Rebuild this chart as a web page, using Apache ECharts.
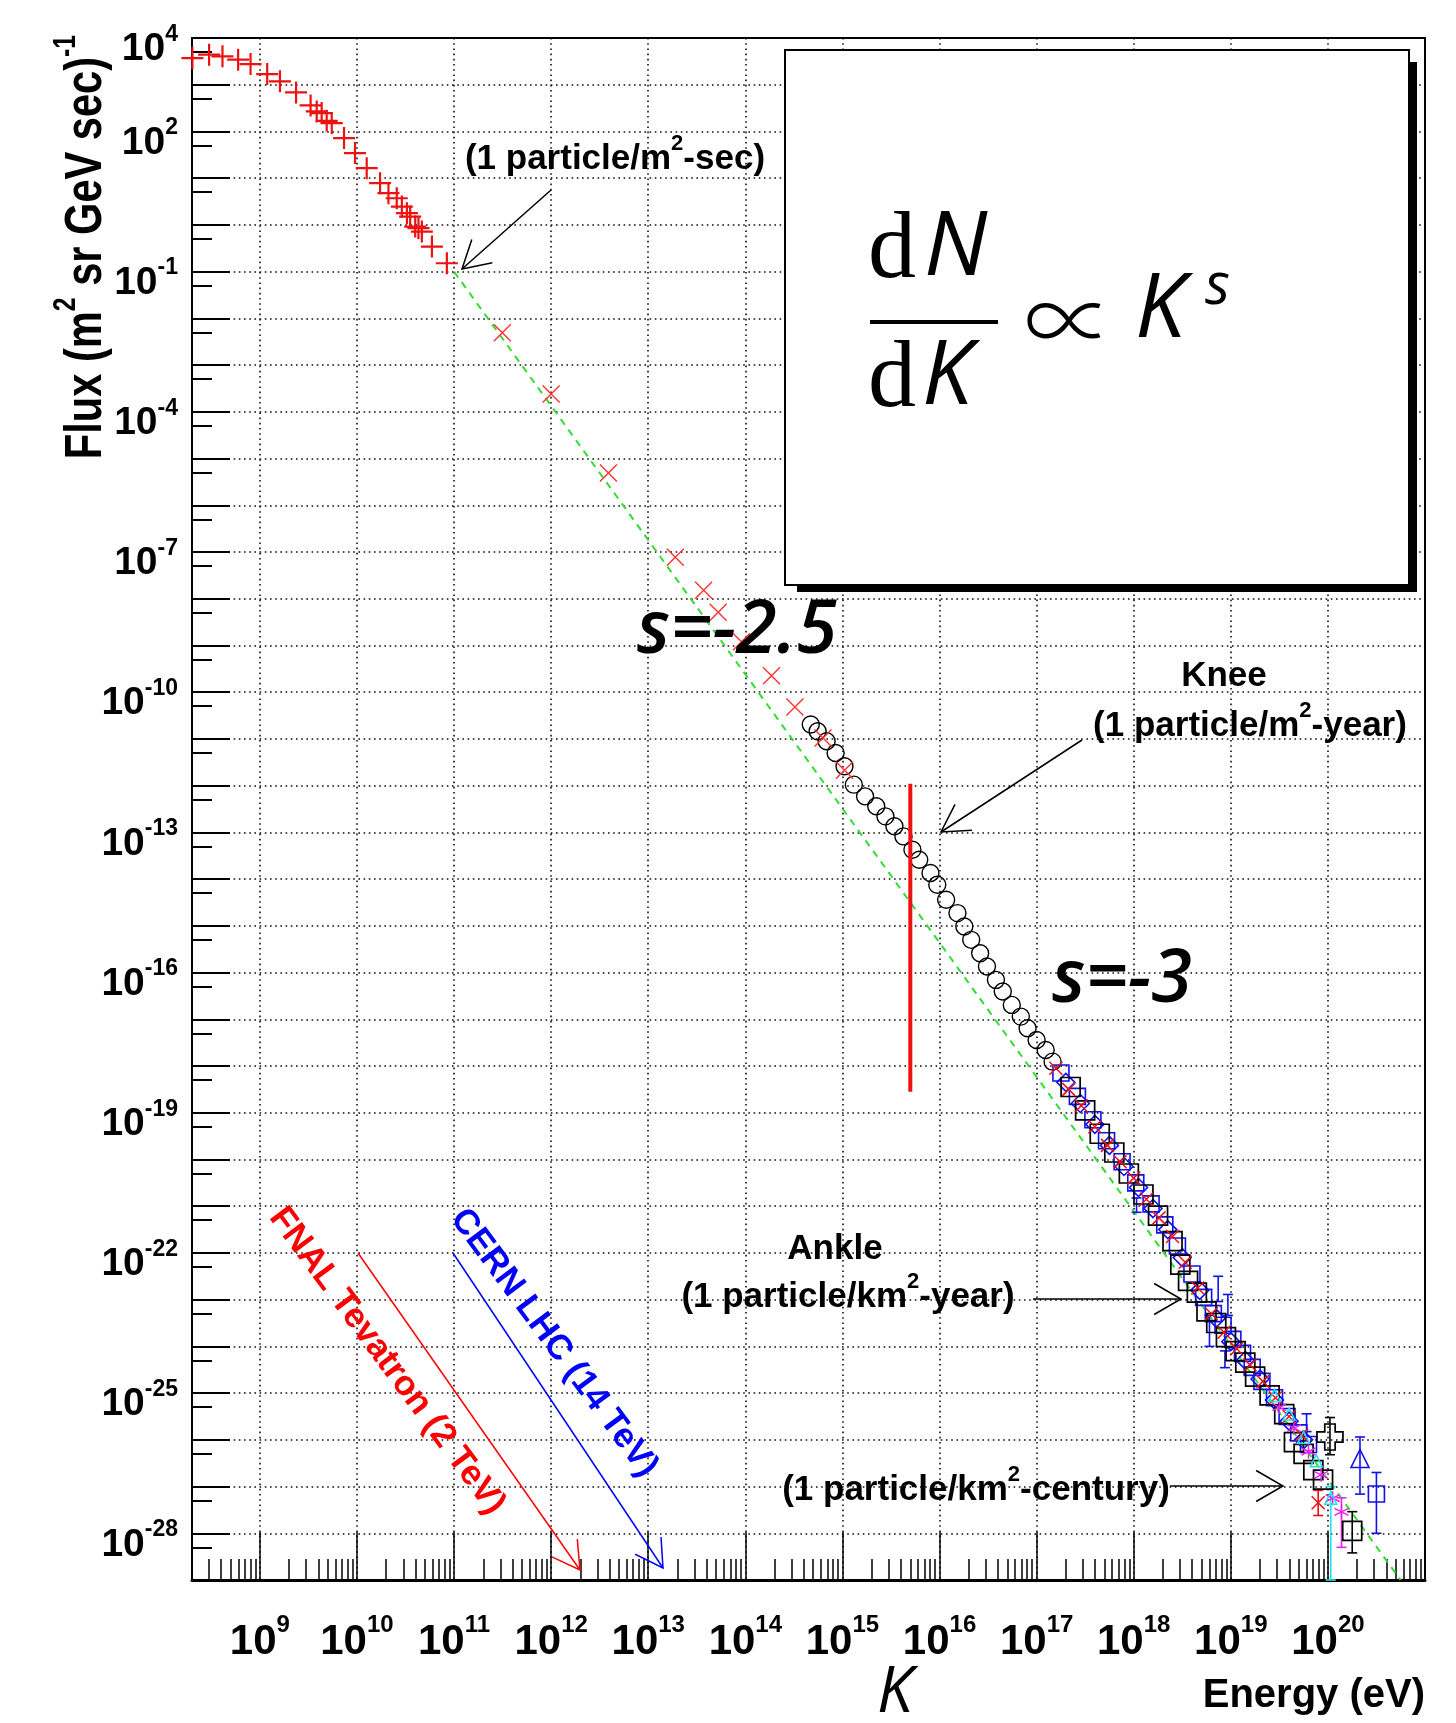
<!DOCTYPE html>
<html>
<head>
<meta charset="utf-8">
<script src="https://cdn.jsdelivr.net/npm/echarts@6/dist/echarts.min.js"></script>
<style>html,body{margin:0;padding:0;background:#fff}#c{width:1456px;height:1723px}</style>
</head>
<body>
<div id="c"></div>
<script>
// ---------------- data (energy in eV, flux in (m^2 sr GeV s)^-1) ----------------
const protonE = [2.02e8, 3.0e8, 4.12e8, 5.97e8, 8.02e8, 1.19e9, 1.61e9, 2.36e9, 3.33e9, 3.85e9, 4.33e9, 4.88e9, 5.5e9, 7.36e9, 9.55e9, 1.26e10, 1.73e10, 2.11e10, 2.57e10, 2.9e10, 3.27e10, 3.53e10, 3.98e10, 4.3e10, 4.66e10, 5.92e10, 8.43e10];
const protonFlux = [3720, 4400, 4050, 3440, 2770, 1690, 1180, 686, 361, 268, 247, 169, 151, 72, 34.4, 16.4, 7.8, 4.78, 3.72, 2.47, 1.78, 1.51, 0.92, 0.85, 0.72, 0.344, 0.151];

const crossE = [3.14e11, 1.0e12, 3.89e12, 1.9e13, 3.72e13, 5.25e13, 9.12e13, 1.86e14, 3.24e14, 6.31e14, 1.05e15];
const crossFlux = [4.95e-3, 2.4e-4, 4.9e-6, 7.76e-8, 1.51e-8, 5.13e-9, 1.2e-9, 2.24e-10, 4.79e-11, 1.05e-11, 2.14e-12];

const circleE = [4.72e14, 5.55e14, 6.87e14, 8.51e14, 1.05e15, 1.31e15, 1.71e15, 2.23e15, 2.77e15, 3.43e15, 4.25e15, 5.26e15, 6.18e15, 8.07e15, 9.48e15, 1.17e16, 1.53e16, 1.8e16, 2.12e16, 2.62e16, 3.08e16, 3.81e16, 4.48e16, 5.55e16, 6.87e16, 8.07e16, 1.0e17, 1.24e17, 1.46e17];
const circleFlux = [2.03e-11, 1.46e-11, 8.91e-12, 5.01e-12, 2.59e-12, 1.05e-12, 5.9e-13, 3.61e-13, 2.2e-13, 1.35e-13, 8.2e-14, 4.26e-14, 2.59e-14, 1.35e-14, 7.57e-15, 3.6e-15, 1.87e-15, 9.68e-16, 5.01e-16, 2.59e-16, 1.35e-16, 6.97e-17, 3.92e-17, 2.03e-17, 1.14e-17, 6.41e-18, 3.61e-18, 2.2e-18, 1.24e-18];

const sqBlackE = [2.24e17, 3.16e17, 4.47e17, 6.31e17, 8.91e17, 1.26e18, 1.78e18, 2.51e18, 3.02e18, 3.63e18, 4.47e18, 5.62e18, 7.08e18, 8.91e18, 1.12e19, 1.41e19, 1.78e19, 2.51e19, 3.55e19, 4.47e19, 5.62e19, 7.08e19, 8.91e19, 1.78e20];
const sqBlackFlux = [3.55e-19, 1.12e-19, 3.55e-20, 1.41e-20, 5.01e-21, 1.78e-21, 6.31e-22, 1.78e-22, 5.62e-23, 2.51e-23, 1.41e-23, 5.62e-24, 3.16e-24, 1.58e-24, 7.94e-25, 4.47e-25, 2.24e-25, 8.91e-26, 3.55e-26, 8.91e-27, 5.01e-27, 2.24e-27, 1.41e-27, 1.12e-28];

const sqBlueE = [1.78e17, 2.63e17, 3.8e17, 5.25e17, 7.59e17, 1.05e18, 1.51e18, 2.09e18, 2.82e18, 3.98e18, 5.25e18, 6.61e18, 8.32e18, 1.05e19, 1.32e19, 1.66e19, 2.09e19, 2.82e19, 3.8e19, 5.01e19, 6.31e19, 3.16e20];
const sqBlueFlux = [7.08e-19, 2.24e-19, 7.08e-20, 2.51e-20, 8.91e-21, 3.16e-21, 1.12e-21, 3.98e-22, 1.41e-22, 3.55e-23, 1.12e-23, 5.01e-24, 2.82e-24, 1.41e-24, 7.08e-25, 3.55e-25, 1.78e-25, 7.94e-26, 3.16e-26, 1.41e-26, 7.94e-27, 6.92e-28];
const diaBlueE = [2.0e17, 2.82e17, 3.98e17, 5.62e17, 7.94e17, 1.12e18, 1.58e18, 2.24e18, 3.16e18, 4.79e18, 7.08e18, 1e19, 1.41e19, 2.0e19, 2.82e19, 3.98e19, 5.62e19];
const diaBlueFlux = [4.47e-19, 1.58e-19, 5.62e-20, 2.0e-20, 7.08e-21, 2.51e-21, 8.91e-22, 3.16e-22, 7.94e-23, 1.58e-23, 3.98e-24, 1.26e-24, 5.01e-25, 2.0e-25, 7.08e-26, 2.51e-26, 1.0e-26];
const triBlueE = [2.14e20];
const triBlueFlux = [3.98e-27];

const redBandE = [1.58e17, 2.14e17, 2.88e17, 3.98e17, 5.37e17, 7.24e17, 1e18, 1.35e18, 1.82e18, 2.51e18, 3.39e18, 4.57e18, 6.31e18, 8.51e18, 1.15e19, 1.58e19, 2.14e19, 2.88e19, 3.98e19, 5.37e19, 7.94e19];
const redBandFlux = [8.91e-19, 3.16e-19, 1.41e-19, 5.01e-20, 2.0e-20, 8.91e-21, 3.98e-21, 1.41e-21, 5.62e-22, 2.24e-22, 6.31e-23, 1.78e-23, 5.01e-24, 2.0e-24, 8.91e-25, 3.98e-25, 1.78e-25, 7.94e-26, 3.16e-26, 1.26e-26, 4.5e-28];

const magentaE = [3.16e19, 4.47e19, 6.31e19, 8.51e19, 1.12e20, 1.38e20];
const magentaFlux = [5.01e-26, 1.78e-26, 5.62e-27, 1.78e-27, 5.62e-28, 2.88e-28];

const cyanE = [2.82e19, 3.98e19, 5.62e19, 7.59e19, 1.07e20];
const cyanFlux = [8.91e-26, 3.55e-26, 1.12e-26, 3.55e-27, 5.62e-28];

const plusBlackE = [1.05e20];
const plusBlackFlux = [1.15e-26];

// error bars: energy, low, high
const blueErrE = [1.07e18, 6.03e18, 7.41e18, 8.7e18, 9.33e18, 6.03e19, 2.14e20, 3.16e20];
const blueErrLo = [7.4e-22, 1.0e-24, 9.1e-24, 3.5e-25, 4.6e-24, 1.5e-26, 6.9e-28, 1.0e-28];
const blueErrHi = [1.5e-21, 4.6e-24, 3.16e-23, 8.0e-25, 1.29e-23, 3.6e-26, 1.15e-26, 2.0e-27];
const redErrE = [7.94e19];
const redErrLo = [2.4e-28];
const redErrHi = [8.3e-28];
const magentaErrE = [1.38e20];
const magentaErrLo = [5e-29];
const magentaErrHi = [5.75e-28];
const cyanErrE = [1.07e20];
const cyanErrLo = [1e-29];
const cyanErrHi = [1.0e-27];
const blackErrE = [1.78e20, 1.05e20];
const blackErrLo = [3.8e-29, 4.8e-27];
const blackErrHi = [2.9e-28, 3.0e-26];

// reference power law (green dashed) and knee marker
const refLineE = [1e11, 5.6e20];
const refLineFlux = [1e-1, 1e-29];
const kneeLineE = [5e15, 5e15];
const kneeLineFlux = [1.1e-12, 2.8e-19];

// axes
const xRange = [2e8, 1e21];
const yRange = [1e-29, 1e4];
const xMajorExp = [9, 10, 11, 12, 13, 14, 15, 16, 17, 18, 19, 20];
const yLabelExp = [4, 2, -1, -4, -7, -10, -13, -16, -19, -22, -25, -28];
const yMajorExp = [];
for (let e = -28; e <= 3; e++) yMajorExp.push(e);

// ---------------- helpers ----------------
const p10 = e => Number('1e' + e);
const xMajorTicks = xMajorExp.map(p10);
const xMinorTicks = [];
for (let n = 8; n <= 20; n++) for (let m = 2; m <= 9; m++) {
  const v = Number(m + 'e' + n);
  if (v >= xRange[0] && v <= xRange[1]) xMinorTicks.push(v);
}
const yMajorTicks = yMajorExp.map(p10);
const yLabelTicks = yLabelExp.map(p10);
const yMinorTicks = [];
for (let n = -29; n <= 3; n++) yMinorTicks.push(Number('5e' + n));

const SANS = '"Liberation Sans", Arial, Helvetica, sans-serif';
const zip = (a, b) => a.map((v, i) => [v, b[i]]);
const expLabel = v => '{b|10}{s|' + Math.round(Math.log10(v)) + '}';

function scatter(E, F, symbol, size, color, width, z) {
  return {
    type: 'scatter', data: zip(E, F), symbol: symbol, symbolSize: size, z: z || 3,
    itemStyle: { color: 'rgba(0,0,0,0)', borderColor: color, borderWidth: width, opacity: 1 },
    emphasis: { disabled: true }, silent: true
  };
}
function errorBars(E, lo, hi, color) {
  return {
    type: 'custom', z: 3, silent: true,
    data: E.map((e, i) => [e, lo[i], hi[i]]),
    encode: { x: 0, y: [1, 2] },
    renderItem: function (params, api) {
      const a = api.coord([api.value(0), api.value(1)]);
      const b = api.coord([api.value(0), api.value(2)]);
      const c = 5, st = { stroke: color, lineWidth: 1.6 };
      return { type: 'group', children: [
        { type: 'line', shape: { x1: a[0], y1: a[1], x2: b[0], y2: b[1] }, style: st },
        { type: 'line', shape: { x1: a[0] - c, y1: a[1], x2: a[0] + c, y2: a[1] }, style: st },
        { type: 'line', shape: { x1: b[0] - c, y1: b[1], x2: b[0] + c, y2: b[1] }, style: st }
      ] };
    }
  };
}
function arrow(x1, y1, x2, y2, color, lw) {
  const ang = Math.atan2(y1 - y2, x1 - x2), h = 31, a = 30 * Math.PI / 180;
  const p1 = [x2 + h * Math.cos(ang + a), y2 + h * Math.sin(ang + a)];
  const p2 = [x2 + h * Math.cos(ang - a), y2 + h * Math.sin(ang - a)];
  return [
    { type: 'line', z: 50, silent: true, shape: { x1: x1, y1: y1, x2: x2, y2: y2 }, style: { stroke: color, lineWidth: lw } },
    { type: 'polyline', z: 50, silent: true, shape: { points: [p1, [x2, y2], p2] }, style: { stroke: color, lineWidth: lw, fill: null } }
  ];
}
function supText(x, y, parts, size, supSize, color) {
  const txt = parts.map(p => '{' + (p[1] ? 's' : 'a') + '|' + p[0] + '}').join('');
  return {
    type: 'text', x: x, y: y, z: 60, silent: true,
    style: {
      text: txt, textAlign: 'center', textVerticalAlign: 'middle',
      rich: {
        a: { fontFamily: SANS, fontWeight: 'bold', fontSize: size, fill: color, lineHeight: Math.round(size * 1.25), verticalAlign: 'bottom' },
        s: { fontFamily: SANS, fontWeight: 'bold', fontSize: supSize, fill: color, lineHeight: supSize, verticalAlign: 'top' }
      }
    }
  };
}
function plainText(x, y, text, font, color, align, rotation) {
  return { type: 'text', x: x, y: y, rotation: rotation || 0, z: 60, silent: true,
    style: { text: text, font: font, fill: color, textAlign: align || 'center', textVerticalAlign: 'middle' } };
}

// ---------------- graphics (annotations) ----------------
const fnalAng = -Math.atan2(312, 231);
const graphics = [].concat(
  [
    { type: 'rect', z: 40, silent: true, shape: { x: 797, y: 62, width: 620, height: 530 }, style: { fill: '#000' } },
    { type: 'rect', z: 41, silent: true, shape: { x: 785, y: 50, width: 624, height: 535 }, style: { fill: '#fff', stroke: '#000', lineWidth: 2 } },
    plainText(868, 252, 'd', '96px "Liberation Serif", "DejaVu Serif", serif', '#000', 'left'),
    plainText(924, 249, 'N', 'italic 90px "Open Sans", "DejaVu Sans", sans-serif', '#000', 'left'),
    { type: 'line', z: 60, silent: true, shape: { x1: 870, y1: 322, x2: 998, y2: 322 }, style: { stroke: '#000', lineWidth: 4 } },
    plainText(868, 381, 'd', '96px "Liberation Serif", "DejaVu Serif", serif', '#000', 'left'),
    plainText(922, 378, 'K', 'italic 90px "Open Sans", "DejaVu Sans", sans-serif', '#000', 'left'),
    plainText(1069, 320, '\u221D', '300 90px "Noto Sans CJK JP", "DejaVu Sans", sans-serif', '#000', 'center'),
    plainText(1135, 311, 'K', 'italic 90px "Open Sans", "DejaVu Sans", sans-serif', '#000', 'left'),
    plainText(1205, 287, 's', 'italic 58px "Open Sans", "DejaVu Sans", sans-serif', '#000', 'left'),

    plainText(737, 632, 's=-2.5', 'italic 600 74px "Open Sans", "DejaVu Sans", sans-serif', '#000'),
    plainText(1122, 981, 's=-3', 'italic 600 74px "Open Sans", "DejaVu Sans", sans-serif', '#000'),
    plainText(895, 1694, 'K', 'italic 64px "Open Sans", "DejaVu Sans", sans-serif', '#000'),
    plainText(1425, 1696, 'Energy (eV)', 'bold 40px ' + SANS, '#000', 'right'),

    supText(615, 155, [['(1 particle/m', 0], ['2', 1], ['-sec)', 0]], 35, 22, '#000'),
    plainText(1224, 676, 'Knee', 'bold 35px ' + SANS, '#000'),
    supText(1250, 722, [['(1 particle/m', 0], ['2', 1], ['-year)', 0]], 35, 22, '#000'),
    plainText(835, 1249, 'Ankle', 'bold 35px ' + SANS, '#000'),
    supText(848, 1293, [['(1 particle/km', 0], ['2', 1], ['-year)', 0]], 35, 22, '#000'),
    supText(976, 1486, [['(1 particle/km', 0], ['2', 1], ['-century)', 0]], 35, 22, '#000'),

    plainText(387, 1361, 'FNAL Tevatron (2 TeV)', 'bold 35px ' + SANS, '#ff0000', 'center', fnalAng),
    plainText(554, 1343, 'CERN LHC (14 TeV)', 'bold 35px ' + SANS, '#0000ff', 'center', fnalAng),

    {
      type: 'text', x: 82, y: 247, rotation: Math.PI / 2, scaleX: 0.8, scaleY: 1, z: 60, silent: true,
      style: {
        text: '{a|Flux (m}{s|2}{a| sr GeV sec)}{s|-1}', textAlign: 'center', textVerticalAlign: 'middle',
        rich: {
          a: { fontFamily: SANS, fontWeight: 'bold', fontSize: 52, fill: '#000', lineHeight: 62, verticalAlign: 'bottom' },
          s: { fontFamily: SANS, fontWeight: 'bold', fontSize: 31, fill: '#000', lineHeight: 31, verticalAlign: 'top' }
        }
      }
    }
  ],
  arrow(551, 190, 462, 269, '#000', 1.5),
  arrow(1082, 740, 941, 832, '#000', 1.5),
  arrow(1033, 1299, 1181, 1299, '#000', 1.5),
  arrow(1170, 1486, 1283, 1486, '#000', 1.5),
  arrow(358, 1253, 580, 1570, '#ff0000', 1.5),
  arrow(453, 1253, 663, 1568, '#0000ff', 1.5)
);

// ---------------- chart ----------------
const chart = echarts.init(document.getElementById('c'), null, { renderer: 'canvas' });
const gridLine = { show: true, lineStyle: { color: '#111', width: 1.6, type: [1.6, 3.6] } };
const option = {
  animation: false,
  backgroundColor: '#fff',
  textStyle: { fontFamily: SANS },
  grid: { left: 192, top: 38, right: 31, bottom: 143, containLabel: false, outerBoundsMode: 'none',
          show: true, borderColor: '#000', borderWidth: 2, backgroundColor: 'rgba(0,0,0,0)' },
  xAxis: [
    {
      type: 'log', logBase: 10, min: xRange[0], max: xRange[1], position: 'bottom', z: 1,
      axisLine: { show: true, onZero: false, lineStyle: { color: '#000', width: 3 } },
      axisTick: { show: true, inside: true, length: 48, customValues: xMajorTicks, lineStyle: { color: '#000', width: 1.5 } },
      axisLabel: {
        show: true, customValues: xMajorTicks, margin: 33, formatter: expLabel,
        rich: {
          b: { fontFamily: SANS, fontWeight: 'bold', fontSize: 42, color: '#000', lineHeight: 50, verticalAlign: 'bottom' },
          s: { fontFamily: SANS, fontWeight: 'bold', fontSize: 24, color: '#000', lineHeight: 24, verticalAlign: 'top' }
        }
      },
      splitLine: gridLine, minorTick: { show: false }, minorSplitLine: { show: false }
    },
    {
      type: 'log', logBase: 10, min: xRange[0], max: xRange[1], position: 'bottom', z: 1,
      axisLine: { show: false }, axisLabel: { show: false }, splitLine: { show: false },
      axisTick: { show: true, inside: true, length: 21, customValues: xMinorTicks, lineStyle: { color: '#000', width: 1.5 } }
    }
  ],
  yAxis: [
    {
      type: 'log', logBase: 10, min: yRange[0], max: yRange[1], position: 'left', z: 1,
      axisLine: { show: true, onZero: false, lineStyle: { color: '#000', width: 2 } },
      axisTick: { show: true, inside: true, length: 38, customValues: yMajorTicks, lineStyle: { color: '#000', width: 2 } },
      axisLabel: {
        show: true, customValues: yLabelTicks, margin: 14, formatter: expLabel, padding: [16, 0, 0, 0],
        rich: {
          b: { fontFamily: SANS, fontWeight: 'bold', fontSize: 39, color: '#000', lineHeight: 46, verticalAlign: 'bottom' },
          s: { fontFamily: SANS, fontWeight: 'bold', fontSize: 23, color: '#000', lineHeight: 22, verticalAlign: 'top' }
        }
      },
      splitLine: gridLine
    },
    {
      type: 'log', logBase: 10, min: yRange[0], max: yRange[1], position: 'left', z: 1,
      axisLine: { show: false }, axisLabel: { show: false }, splitLine: { show: false },
      axisTick: { show: true, inside: true, length: 20, customValues: yMinorTicks, lineStyle: { color: '#000', width: 2 } }
    }
  ],
  series: [
    { type: 'line', data: zip(refLineE, refLineFlux), symbol: 'none', z: 2, silent: true,
      lineStyle: { color: '#33dd33', width: 2, type: [7, 6] } },
    scatter(protonE, protonFlux, 'path://M5,0L5,10M0,5L10,5', 22, '#ee1111', 2.2, 4),
    scatter(crossE, crossFlux, 'path://M0,0L10,10M10,0L0,10', 17, '#ff3333', 1.4, 4),
    scatter(circleE, circleFlux, 'circle', 17, '#000', 1.4, 3),
    errorBars(blueErrE, blueErrLo, blueErrHi, '#1111ee'),
    errorBars(redErrE, redErrLo, redErrHi, '#ee1111'),
    errorBars(magentaErrE, magentaErrLo, magentaErrHi, '#ee22ee'),
    errorBars(cyanErrE, cyanErrLo, cyanErrHi, '#22e0f0'),
    errorBars(blackErrE, blackErrLo, blackErrHi, '#000'),
    scatter(sqBlueE, sqBlueFlux, 'rect', 16, '#1111ee', 1.6, 3),
    scatter(diaBlueE, diaBlueFlux, 'diamond', 18, '#1111ee', 1.6, 3),
    scatter(triBlueE, triBlueFlux, 'triangle', 18, '#1111ee', 1.6, 3),
    scatter(sqBlackE, sqBlackFlux, 'rect', 19, '#000', 1.7, 3),
    scatter(redBandE, redBandFlux, 'path://M0,0L10,10M10,0L0,10', 13, '#ee1111', 1.5, 4),
    scatter(magentaE, magentaFlux, 'path://M5,0L5,10M0.7,2.5L9.3,7.5M0.7,7.5L9.3,2.5', 14, '#ee22ee', 1.5, 4),
    scatter(cyanE, cyanFlux, 'triangle', 12, '#22e0f0', 1.5, 4),
    scatter(plusBlackE, plusBlackFlux, 'path://M3,0L7,0L7,3L10,3L10,7L7,7L7,10L3,10L3,7L0,7L0,3L3,3Z', 26, '#000', 1.7, 4),
    { type: 'line', data: zip(kneeLineE, kneeLineFlux), symbol: 'none', z: 5, silent: true,
      lineStyle: { color: '#ee1111', width: 4 } }
  ],
  graphic: { elements: graphics }
};
chart.setOption(option);
</script>
</body>
</html>
